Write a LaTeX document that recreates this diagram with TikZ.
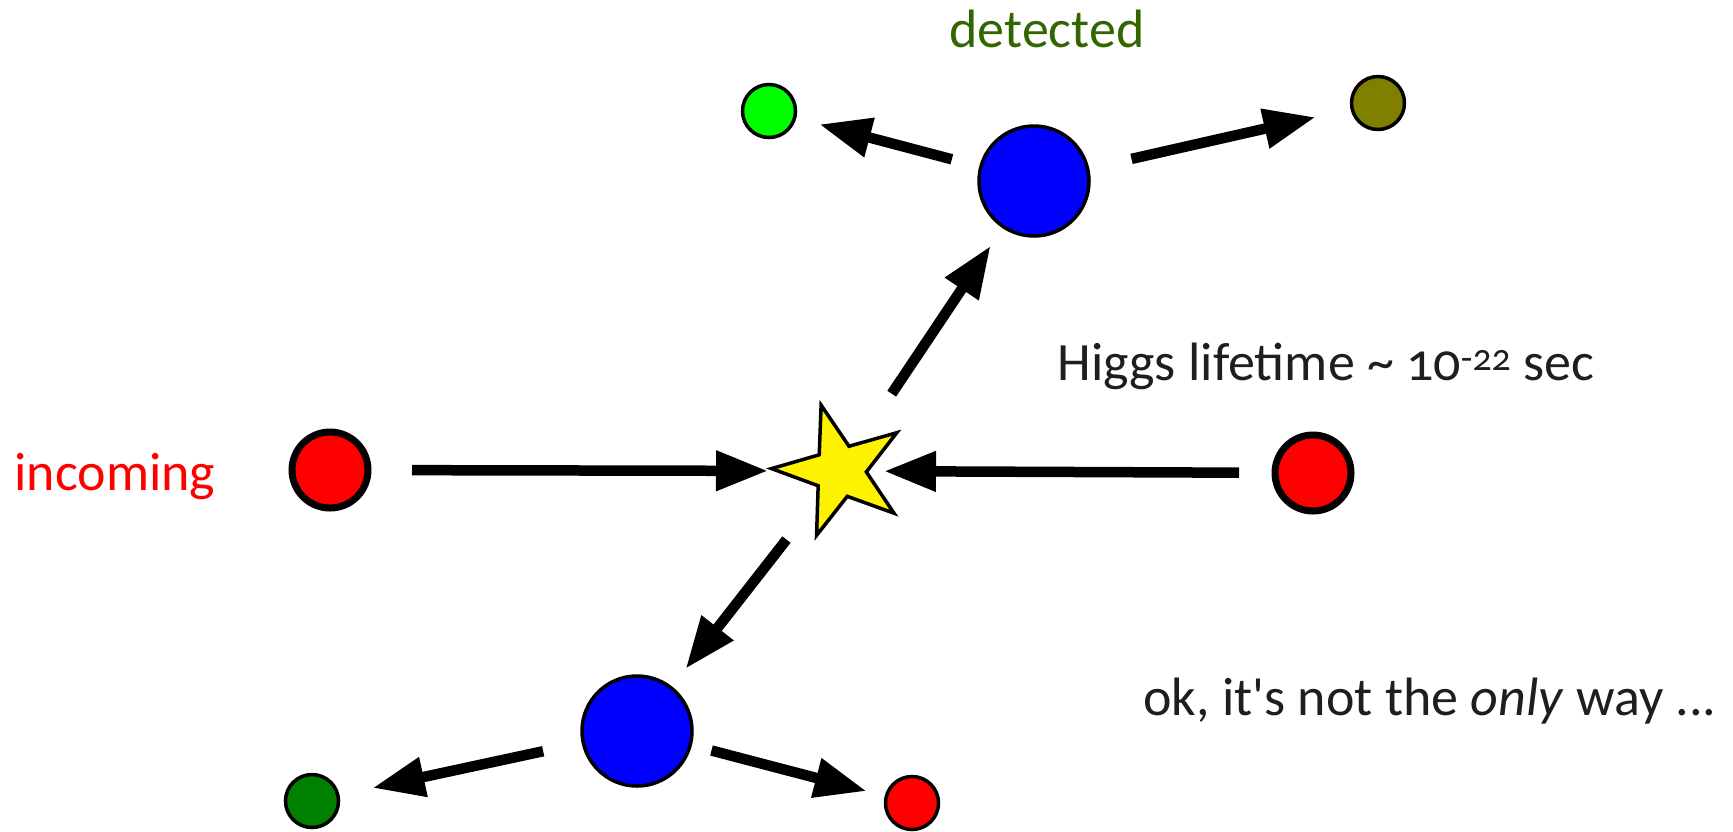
\documentclass[tikz,border=0pt]{standalone}
\usepackage{fontspec}
\setmainfont{Carlito}[Numbers=OldStyle,Ligatures=TeXOff]
\usetikzlibrary{arrows.meta,shapes.geometric}
\definecolor{detgreen}{RGB}{51,102,0}
\definecolor{olivec}{RGB}{128,128,0}
\definecolor{darkg}{RGB}{0,128,0}
\definecolor{brightg}{RGB}{0,255,0}
\definecolor{txt}{RGB}{30,30,30}
\begin{document}
\begin{tikzpicture}[x=1pt,y=-1pt,
  bigred/.style={circle,draw=black,line width=7pt,fill=red,minimum size=76pt,inner sep=0pt},
  boson/.style={circle,draw=black,line width=3.5pt,fill=blue,minimum size=110pt,inner sep=0pt},
  smallp/.style={circle,draw=black,line width=3.5pt,minimum size=53pt,inner sep=0pt},
  arr/.style={line width=10.5pt,-{Triangle[length=52pt,width=38pt]}},
  lbl/.style={font=\fontsize{54}{60}\selectfont,anchor=base,inner sep=0pt}]
\useasboundingbox (0,0) rectangle (1733,831);
% nodes
\node[bigred] (l) at (330,470) {};
\node[bigred] (r) at (1313,473) {};
\node[star,star points=5,star point ratio=2.6,minimum size=137pt,inner sep=0pt,
      draw=black,line width=3.5pt,fill=yellow,rotate=16] (s) at (840,471) {};
\node[boson] (hu) at (1034,181) {};
\node[boson] (hd) at (637,731) {};
\node[smallp,fill=brightg] (g1) at (769,111) {};
\node[smallp,fill=olivec] (o1) at (1378,103) {};
\node[smallp,fill=darkg] (g2) at (312,801) {};
\node[smallp,fill=red] (r2) at (912,803) {};
% arrows
\draw[arr,shorten <=82pt,shorten >=72pt] (l.center) -- (s.center);
\draw[arr,shorten <=74pt,shorten >=44pt] (r.center) -- (s.center);
\draw[arr,shorten <=93pt,shorten >=78pt] (s.center) -- (hu.center);
\draw[arr,shorten <=85pt,shorten >=52pt] (hu.center) -- (g1.center);
\draw[arr,shorten <=100pt,shorten >=64pt] (hu.center) -- (o1.center);
\draw[arr,shorten <=87pt,shorten >=79pt] (s.center) -- (hd.center);
\draw[arr,shorten <=96pt,shorten >=62pt] (hd.center) -- (g2.center);
\draw[arr,shorten <=77pt,shorten >=47pt] (hd.center) -- (r2.center);
% labels
\node[lbl,text=red] (inc) at (115,490) {incoming};
\node[lbl,text=detgreen] (det) at (1047,47) {detected};
\node[lbl,text=txt] (hl) at (1326,380) {Higgs lifetime \char"007E{} 10\textsuperscript{-22} sec};
\node[lbl,text=txt] (ok) at (1430,715) {ok, it's not the \textit{only} way ...};
\end{tikzpicture}
\end{document}
